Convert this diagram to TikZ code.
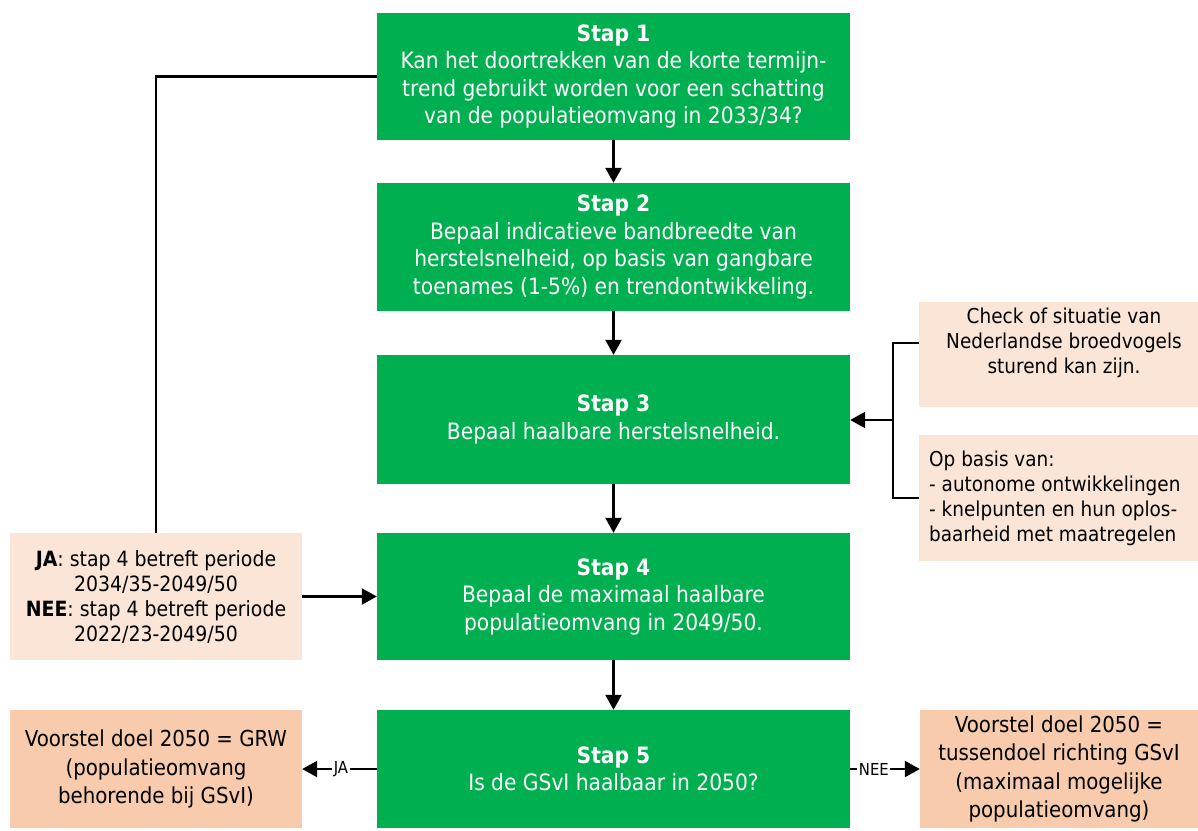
\documentclass[tikz,border=0pt]{standalone}
\usepackage{fontspec}
\setmainfont{DejaVu Sans Condensed}
\usetikzlibrary{arrows.meta}
\definecolor{stapgreen}{HTML}{00B050}
\definecolor{lightpeach}{HTML}{FBE5D6}
\definecolor{darkpeach}{HTML}{F8CBAD}
\begin{document}
\begin{tikzpicture}[x=1pt,y=-1pt,
  stapbox/.style={fill=stapgreen, text=white, minimum width=473pt, inner sep=0pt, align=center, font=\fontsize{22.5}{27.5}\selectfont},
  lightbox/.style={fill=lightpeach, inner sep=0pt},
  darkbox/.style={fill=darkpeach, inner sep=0pt, align=center, font=\fontsize{22}{28.5}\selectfont},
  sidetext/.style={inner sep=0pt, font=\fontsize{20.5}{25}\selectfont},
  conn/.style={line width=2.2pt, -{Triangle[width=16pt,length=15pt]}},
  plain/.style={line width=2.2pt},
  lbl/.style={fill=white, inner xsep=1.5pt, inner ysep=2pt, font=\fontsize{16.5}{18}\selectfont}
]
\useasboundingbox (0,0) rectangle (1198,830);

\node[stapbox, minimum height=127pt] (s1) at (613.5,76.5) {\textbf{Stap 1}\\Kan het doortrekken van de korte termijn-\\trend gebruikt worden voor een schatting\\van de populatieomvang in 2033/34?};
\node[stapbox, minimum height=128pt] (s2) at (613.5,247) {\textbf{Stap 2}\\Bepaal indicatieve bandbreedte van\\herstelsnelheid, op basis van gangbare\\toenames (1-5\%) en trendontwikkeling.};
\node[stapbox, minimum height=129pt] (s3) at (613.5,419.5) {\textbf{Stap 3}\\Bepaal haalbare herstelsnelheid.};
\node[stapbox, minimum height=127pt] (s4) at (613.5,596.5) {\textbf{Stap 4}\\Bepaal de maximaal haalbare\\populatieomvang in 2049/50.};
\node[stapbox, minimum height=118pt] (s5) at (613.5,769) {\textbf{Stap 5}\\Is de GSvI haalbaar in 2050?};

\node[lightbox, minimum width=292pt, minimum height=127pt, align=center, font=\fontsize{21}{25}\selectfont] (ja) at (156,596.5) {\textbf{JA}: stap 4 betreft periode\\2034/35-2049/50\\\textbf{NEE}: stap 4 betreft periode\\2022/23-2049/50};

\node[lightbox, minimum width=279pt, minimum height=105pt] (check) at (1058.5,354.5) {};
\node[sidetext, align=center] (checktext) at (1064,343) {Check of situatie van\\Nederlandse broedvogels\\sturend kan zijn.};
\node[lightbox, minimum width=279pt, minimum height=126pt] (op) at (1058.5,498) {};
\node[sidetext, align=left, anchor=west] (optext) at (929,498) {Op basis van:\\- autonome ontwikkelingen\\- knelpunten en hun oplos-\\baarheid met maatregelen};

\node[darkbox, minimum width=292pt, minimum height=118pt] (grw) at (156,769) {Voorstel doel 2050 = GRW\\(populatieomvang\\behorende bij GSvI)};
\node[darkbox, minimum width=278pt, minimum height=118pt] (tus) at (1059,769) {Voorstel doel 2050 =\\tussendoel richting GSvI\\(maximaal mogelijke\\populatieomvang)};

\draw[conn] (s1) -- (s2);
\draw[conn] (s2) -- (s3);
\draw[conn] (s3) -- (s4);
\draw[conn] (s4) -- (s5);

\draw[plain] (s1.west) -| (ja.north);
\draw[conn] (ja.east) -- (s4.west);

\coordinate (bt) at (893,343);
\coordinate (bm) at (893,420);
\draw[plain] (check.west |- bt) -- (bt) -- (bt |- op.west) -- (op.west);
\draw[conn] (bm) -- (bm -| s3.east);

\draw[conn] (s5.west) -- node[lbl, pos=0.48] {JA} (grw.east);
\draw[conn] (s5.east) -- node[lbl, pos=0.34] {NEE} (tus.west);
\end{tikzpicture}
\end{document}
